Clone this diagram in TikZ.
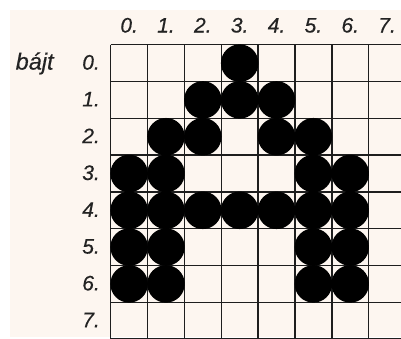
\documentclass[tikz,border=0pt]{standalone}
\usepackage{fontspec}
\setmainfont{Liberation Sans}
\newfontfamily\labfont{Liberation Sans Italic}[FakeBold=0.4]
\definecolor{cream}{RGB}{253,246,240}
\definecolor{ink}{RGB}{30,30,30}
\definecolor{lbl}{RGB}{35,35,35}
\begin{document}
\begin{tikzpicture}[x=1pt,y=-1pt,
  gridline/.style={ink,line width=1.4pt},
  dot/.style={circle,fill=black,inner sep=0pt,minimum size=37.5pt},
  lab/.style={text=lbl,font=\labfont\fontsize{21}{22}\selectfont,inner sep=0pt}]
\useasboundingbox (0,0) rectangle (401,338);
\clip (0,0) rectangle (401,338);
\fill[white] (0,0) rectangle (401,338);
\fill[cream] (10,10) rectangle (401,337);
\def\gx{110.7}\def\gy{44.7}\def\cw{36.85}\def\ch{36.8}
% grid
\foreach \i in {0,...,8}{
  \draw[gridline] ({\gx+\i*\cw},\gy) -- ({\gx+\i*\cw},{\gy+8*\ch});
  \draw[gridline] (\gx,{\gy+\i*\ch}) -- ({\gx+8*\cw},{\gy+\i*\ch});
}
% column labels
\foreach \i in {0,...,7}{
  \node[lab,anchor=base] (col\i) at ({\gx+(\i+0.5)*\cw},32.5) {\i.};
}
% row labels
\foreach \j in {0,...,7}{
  \node[lab,anchor=base east] (row\j) at (100,{\gy+(\j+0.5)*\ch+6.5}) {\j.};
}
\node[lab,anchor=base west,font=\labfont\fontsize{23.5}{24}\selectfont] (bajt) at (15.5,{\gy+0.5*\ch+6.5}) {bájt};
% dots
\foreach \r/\cols in {0/{3},1/{2,3,4},2/{1,2,4,5},3/{0,1,5,6},4/{0,1,2,3,4,5,6},5/{0,1,5,6},6/{0,1,5,6}}{
  \foreach \c in \cols {
    \node[dot] (d\r-\c) at ({\gx+(\c+0.5)*\cw},{\gy+(\r+0.5)*\ch}) {};
  }
}
\end{tikzpicture}
\end{document}
